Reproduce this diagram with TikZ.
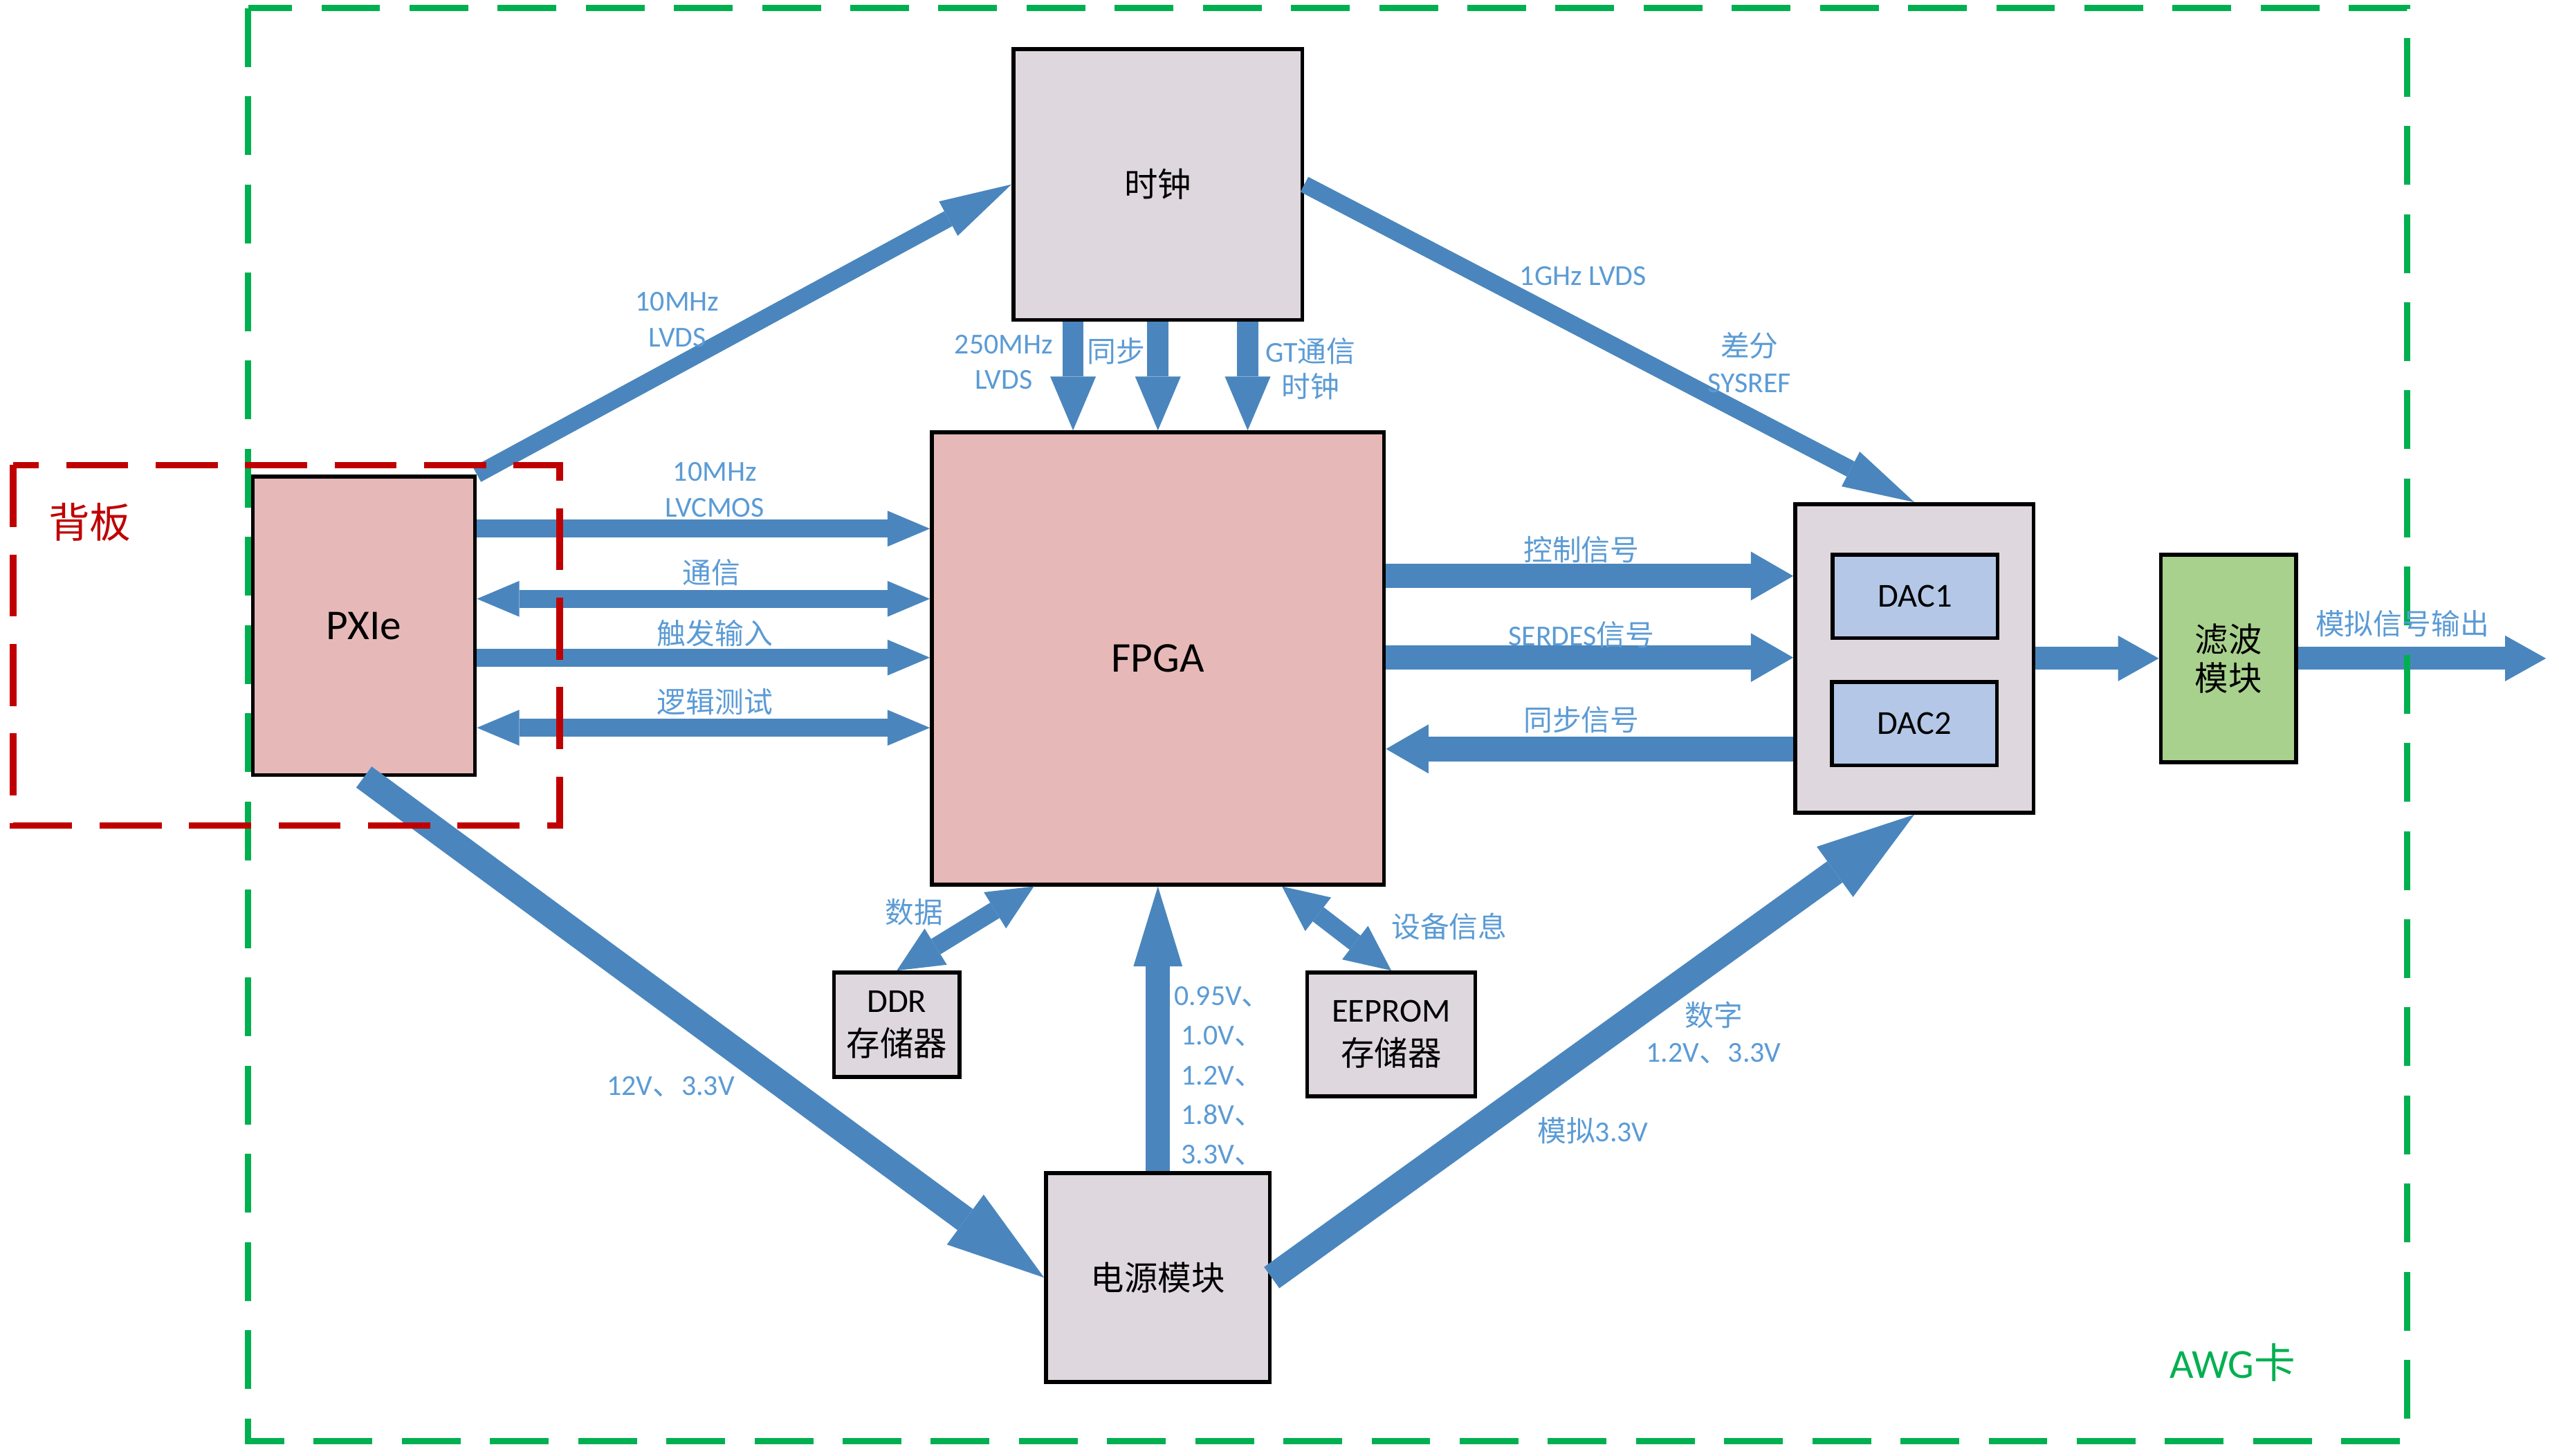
\documentclass[tikz,border=0pt]{standalone}
\usepackage{fontspec}
\usepackage{tikz}
\usetikzlibrary{arrows.meta,calc}
\setmainfont{Carlito}
\newfontfamily\zhfont{Noto Sans CJK SC}
\definecolor{pinkfill}{RGB}{230,185,184}
\definecolor{greyfill}{RGB}{222,215,221}
\definecolor{dacfill}{RGB}{180,199,231}
\definecolor{filterfill}{RGB}{169,209,142}
\definecolor{flowblue}{RGB}{74,134,189}
\definecolor{labelblue}{RGB}{91,155,213}
\definecolor{awggreen}{RGB}{0,176,80}
\definecolor{boardred}{RGB}{192,0,0}
\tikzset{
    block-box/.style = {draw=black, line width=1.7pt, rectangle, inner sep=0pt, align=center, font=\fontsize{14.6}{19}\selectfont},
    pink-box/.style = {block-box, fill=pinkfill, font=\fontsize{18.5}{22}\selectfont},
    grey-box/.style = {block-box, fill=greyfill},
    dac-box/.style = {block-box, fill=dacfill, minimum width=2.525cm, minimum height=1.275cm},
    sig-label/.style = {text=labelblue, inner sep=0pt, align=center, font=\fontsize{12.6}{15.6}\selectfont},
    flow/.style = {draw=flowblue, line width=#1},
    thin-link/.style = {flow=0.26cm, -{Triangle[width=0.6cm,length=1.1cm,line width=0pt]}},
    bus-one/.style = {flow=0.275cm, -{Triangle[width=0.55cm,length=0.65cm,line width=0pt]}},
    bus-two/.style = {flow=0.275cm, {Triangle[width=0.55cm,length=0.65cm,line width=0pt]}-{Triangle[width=0.55cm,length=0.65cm,line width=0pt]}},
    wide-link/.style = {flow=0.375cm, -{Triangle[width=0.75cm,length=0.65cm,line width=0pt]}},
    out-link/.style = {flow=0.35cm, -{Triangle[width=0.7cm,length=0.625cm,line width=0pt]}},
    down-link/.style = {flow=0.325cm, -{Triangle[width=0.7cm,length=0.825cm,line width=0pt]}},
    power-link/.style = {flow=0.375cm, -{Triangle[width=0.75cm,length=1.225cm,line width=0pt]}},
    supply-link/.style = {flow=0.4cm, -{Triangle[width=0.95cm,length=1.5cm,line width=0pt]}},
    mem-link/.style = {flow=0.275cm, {Triangle[width=0.65cm,length=0.7cm,line width=0pt]}-{Triangle[width=0.65cm,length=0.7cm,line width=0pt]}},
    awg-frame/.style = {draw=awggreen, line width=0.095cm, dash pattern=on 0.9cm off 0.45cm},
    board-frame/.style = {draw=boardred, line width=0.1cm, dash pattern=on 0.95cm off 0.42cm},
}

\begin{document}
\begin{tikzpicture}[x=0.025cm, y=-0.025cm]
\fill[white] (0,0) rectangle (1568,892);
\useasboundingbox (0,0) rectangle (1568,892);

% blocks
\node[grey-box, minimum width=4.425cm, minimum height=4.15cm] (clock) at (709.5,113) {\zhfont 时钟};
\node[pink-box, minimum width=6.925cm, minimum height=6.925cm] (fpga) at (709.5,403.5) {FPGA};
\node[pink-box, minimum width=3.4cm, minimum height=4.575cm] (pxie) at (223,383.5) {PXIe};
\node[grey-box, minimum width=3.65cm, minimum height=4.725cm] (dac) at (1173,403.5) {};
\node[dac-box] (dac1) at (1173.5,365.5) {DAC1};
\node[dac-box] (dac2) at (1173,443.5) {DAC2};
\node[block-box, fill=filterfill, minimum width=2.075cm, minimum height=3.175cm, font=\zhfont\fontsize{14.6}{17}\selectfont] (filter) at (1365.5,403.5) {滤波\\模块};
\node[grey-box, minimum width=1.925cm, minimum height=1.6cm] (ddr) at (549.5,628) {DDR\\{\zhfont 存储器}};
\node[grey-box, minimum width=2.575cm, minimum height=1.9cm] (eeprom) at (852.5,634) {EEPROM\\{\zhfont 存储器}};
\node[grey-box, minimum width=3.425cm, minimum height=3.2cm] (power) at (709.5,783) {\zhfont 电源模块};
\coordinate (analog out) at (1560,403.5);

% clock links
\draw[thin-link] (pxie.north east) -- (clock.west);
\draw[thin-link] (clock.east) -- (dac.north);
\foreach \dx in {-52,0,55}
    \draw[down-link] ($(clock.south)+(\dx,0)$) -- ($(fpga.north)+(\dx,0)$);

% PXIe <-> FPGA
\draw[bus-one] (pxie.east |- 0,324) -- (fpga.west |- 0,324);
\draw[bus-two] (pxie.east |- 0,367) -- (fpga.west |- 0,367);
\draw[bus-one] (pxie.east |- 0,403) -- (fpga.west |- 0,403);
\draw[bus-two] (pxie.east |- 0,446) -- (fpga.west |- 0,446);

% FPGA <-> DAC, output chain
\draw[wide-link] (fpga.east |- 0,353) -- (dac.west |- 0,353);
\draw[wide-link] (fpga.east |- 0,403) -- (dac.west |- 0,403);
\draw[wide-link] (dac.west |- 0,459) -- (fpga.east |- 0,459);
\draw[out-link] (dac.east) -- (filter.west);
\draw[out-link] (filter.east) -- (analog out);

% memories
\draw[mem-link] ($(fpga.south)+(-76,0)$) -- (ddr.north);
\draw[mem-link] ($(fpga.south)+(76,0)$) -- (eeprom.north);

% power
\draw[power-link] (power.north) -- (fpga.south);
\draw[supply-link] (pxie.south) -- (power.west);
\draw[supply-link] (power.east) -- (dac.south);

% frames
\draw[awg-frame] (152,5) rectangle (1475,883);
\draw[board-frame] (8,285) rectangle (343,506);
\node[text=boardred, font=\zhfont\fontsize{18}{22}\selectfont] (board title) at (55,320) {背板};
\node[text=awggreen, font=\fontsize{18}{22}\selectfont] (awg title) at (1368,835) {AWG{\zhfont 卡}};

% labels
\node[sig-label] (ref lvds) at (415,196) {10MHz\\LVDS};
\node[sig-label] (ghz lvds) at (970,169) {1GHz LVDS};
\node[sig-label] (sysref) at (1072,222) {{\zhfont 差分}\\SYSREF};
\node[sig-label] (fpga clk) at (615,222) {250MHz\\LVDS};
\node[sig-label] (sync clk) at (684,215) {\zhfont 同步};
\node[sig-label] (gt clk) at (803,226) {GT{\zhfont 通信}\\{\zhfont 时钟}};
\node[sig-label] (lvcmos) at (438,300) {10MHz\\LVCMOS};
\node[sig-label] (comm) at (436,351) {\zhfont 通信};
\node[sig-label] (trig) at (438,388) {\zhfont 触发输入};
\node[sig-label] (logic) at (438,430) {\zhfont 逻辑测试};
\node[sig-label] (ctrl) at (969,337) {\zhfont 控制信号};
\node[sig-label] (serdes) at (969,389) {SERDES{\zhfont 信号}};
\node[sig-label] (sync) at (969,441) {\zhfont 同步信号};
\node[sig-label] (analog) at (1472,382) {\zhfont 模拟信号输出};
\node[sig-label] (data) at (560,559) {\zhfont 数据};
\node[sig-label] (info) at (888,568) {\zhfont 设备信息};
\node[sig-label, font=\fontsize{12.6}{17.3}\selectfont] (rails) at (749,659.5) {0.95V{\zhfont 、}\\1.0V{\zhfont 、}\\1.2V{\zhfont 、}\\1.8V{\zhfont 、}\\3.3V{\zhfont 、}};
\node[sig-label] (backplane v) at (411,666) {12V{\zhfont 、}3.3V};
\node[sig-label] (digital v) at (1050,633) {{\zhfont 数字}\\1.2V{\zhfont 、}3.3V};
\node[sig-label] (analog v) at (976,693) {{\zhfont 模拟}3.3V};
\end{tikzpicture}
\end{document}
